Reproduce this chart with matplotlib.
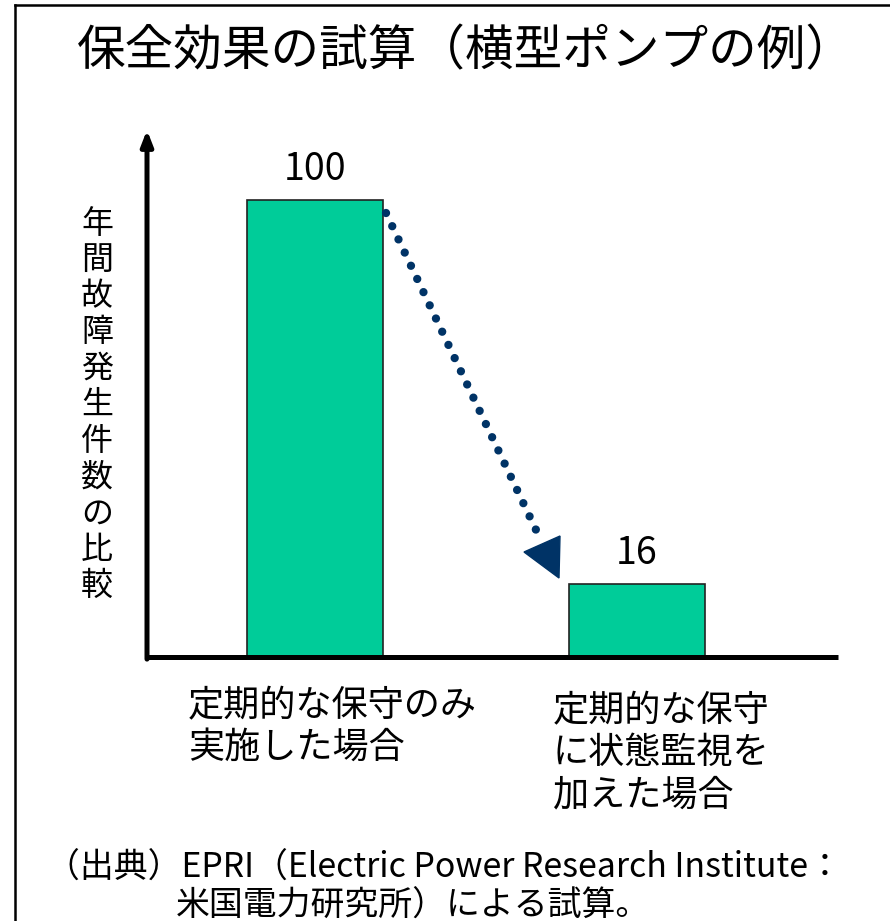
import matplotlib
matplotlib.use("Agg")
import matplotlib.pyplot as plt
from matplotlib.patches import Polygon
from matplotlib.lines import Line2D

plt.rcParams['font.family'] = ['Noto Sans CJK JP', 'DejaVu Sans']

title = "保全効果の試算（横型ポンプの例）"
categories = ["定期的な保守のみ\n実施した場合", "定期的な保守\nに状態監視を\n加えた場合"]
values = [100, 16]
value_labels = ["100", "16"]
ylabel = "年間故障発生件数の比較"
footnote1 = "（出典）EPRI（Electric Power Research Institute："
footnote2 = "米国電力研究所）による試算。"

W, H = 890, 921
fig = plt.figure(figsize=(W / 100, H / 100), dpi=100)

def fx(px):
    return px / W

def fy(py):
    return 1 - py / H

# axes region in pixels
ax_l, ax_r, ax_b, ax_t = 147, 838, 657, 130
ax = fig.add_axes([fx(ax_l), fy(ax_b), fx(ax_r) - fx(ax_l), fy(ax_t) - fy(ax_b)])
ax.set_ylim(0, 100 * (ax_b - ax_t) / (657 - 200))
ppu = 321.5
ax.set_xlim(-(315 - ax_l) / ppu, (ax_r - 315) / ppu)

xs = list(range(len(values)))
bar_w = 136 / ppu
ax.bar(xs, values, width=bar_w, color="#00CC99", edgecolor="#222222", linewidth=1.2, zorder=2)

for x, v, lab in zip(xs, values, value_labels):
    ax.text(x, v + 2.3, lab, ha="center", va="bottom", fontsize=27, color="black")

ax.set_xticks([])
ax.set_yticks([])
for s in ["top", "right", "left"]:
    ax.spines[s].set_visible(False)
ax.spines["bottom"].set_linewidth(3.6)
ax.spines["bottom"].set_capstyle("butt")

# y axis with arrow
ax.annotate("", xy=(0, 1.0), xycoords="axes fraction", xytext=(0, -0.004),
            textcoords="axes fraction",
            arrowprops=dict(arrowstyle="-|>,head_length=0.9,head_width=0.35",
                            lw=3.6, color="black", shrinkA=0, shrinkB=0),
            annotation_clip=False)

# dotted arrow between bars
def px2d(px, py):
    return ((px - 315) / ppu, (657 - py) * 100 / 457)

p0 = px2d(386, 213)
p1 = px2d(537, 532)
ax.plot([p0[0], p1[0]], [p0[1], p1[1]], color="#003366", lw=6.0,
        linestyle=(0, (0.001, 1.75)), dash_capstyle="round", zorder=3)
tri = [px2d(524, 552), px2d(560, 536), px2d(559, 578)]
ax.add_patch(Polygon(tri, closed=True, color="#003366", zorder=3, clip_on=False))

# y label stacked vertically
fig.text(fx(97), fy(405), "\n".join(ylabel), ha="center", va="center",
         fontsize=23, linespacing=1.17)

# category labels
fig.text(fx(188), fy(688), categories[0], ha="left", va="top", fontsize=26, linespacing=1.2)
fig.text(fx(553), fy(693), categories[1], ha="left", va="top", fontsize=26, linespacing=1.22)

# title
fig.text(fx(466), fy(52), title, ha="center", va="center", fontsize=35)

# footnote
fig.text(fx(46), fy(867), footnote1, ha="left", va="center", fontsize=24.4)
fig.text(fx(176), fy(905), footnote2, ha="left", va="center", fontsize=24.4)

# frame lines
fig.add_artist(Line2D([fx(15), fx(15)], [fy(5), 0], color="black", lw=1.8))
fig.add_artist(Line2D([fx(15), 1], [fy(5), fy(5)], color="black", lw=1.8))

fig.savefig("out.png", dpi=100)
